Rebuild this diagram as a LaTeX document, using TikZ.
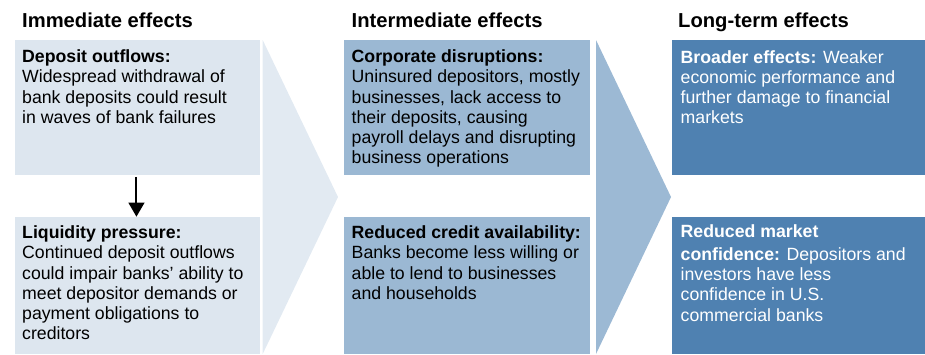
\documentclass[tikz,border=0pt]{standalone}
\usepackage{fontspec}
\setmainfont{Liberation Sans}
\usetikzlibrary{arrows.meta}

\definecolor{paleblue}{HTML}{DDE6EF}
\definecolor{palechev}{HTML}{E2EAF2}
\definecolor{midblue}{HTML}{9BB8D3}
\definecolor{midchev}{HTML}{9CB9D4}
\definecolor{deepblue}{HTML}{4F81B1}

\newcommand{\bodyfont}{\fontsize{17.7}{20.2}\selectfont}
\newcommand{\headfont}{\fontsize{20.2}{24}\selectfont\bfseries}

\begin{document}
\begin{tikzpicture}[x=1pt,y=-1pt,
  panel/.style={draw=none,anchor=north west,inner sep=0pt,minimum height=#1},
  lightpanel/.style={panel=#1,fill=paleblue,minimum width=244.5pt},
  midpanel/.style={panel=#1,fill=midblue,minimum width=246pt},
  darkpanel/.style={panel=#1,fill=deepblue,minimum width=253pt},
  heading/.style={anchor=base west,inner sep=0pt,font=\headfont},
  blurb/.style={anchor=base west,inner sep=0pt,font=\bodyfont},
  flow/.style={line width=2pt,-{Triangle[width=15.7pt,length=14pt]},shorten <=2pt}
]
\useasboundingbox (0,0) rectangle (925,354);

% wide chevrons behind the columns
\coordinate (c1a) at (262.7,40);
\coordinate (c1b) at (338,197);
\coordinate (c1c) at (262.7,354);
\fill[palechev] (c1a) -- (c1b) -- (c1c) -- cycle;
\coordinate (c2a) at (596,40);
\coordinate (c2b) at (671,197);
\coordinate (c2c) at (596,354);
\fill[midchev] (c2a) -- (c2b) -- (c2c) -- cycle;

% column headings
\node[heading] (h1) at (22,27) {Immediate effects};
\node[heading] (h2) at (351.5,27) {Intermediate effects};
\node[heading] (h3) at (678,27) {Long-term effects};

% panels
\node[lightpanel=134.5pt] (dep) at (15,40) {};
\node[lightpanel=137.3pt] (liq) at (15,216.7) {};
\node[midpanel=134.5pt] (corp) at (344,40) {};
\node[midpanel=137.3pt] (cred) at (344,216.7) {};
\node[darkpanel=134.5pt] (broad) at (672,40) {};
\node[darkpanel=137.3pt] (conf) at (672,216.7) {};

% panel texts
\node[blurb] (deptext) at ([xshift=7pt,yshift=-22.7pt]dep.north west)
  {\parbox[t]{240pt}{\raggedright\textbf{Deposit outflows:}\\
   Widespread withdrawal of\\ bank deposits could result\\ in waves of bank failures}};
\node[blurb] (liqtext) at ([xshift=7pt,yshift=-22pt]liq.north west)
  {\parbox[t]{240pt}{\raggedright\textbf{Liquidity pressure:}\\
   Continued deposit outflows\\ could impair banks’ ability to\\ meet depositor demands or\\
   payment obligations to\\ creditors}};
\node[blurb] (corptext) at ([xshift=7.5pt,yshift=-22.7pt]corp.north west)
  {\parbox[t]{240pt}{\raggedright\textbf{Corporate disruptions:}\\
   Uninsured depositors, mostly\\ businesses, lack access to\\ their deposits, causing\\
   payroll delays and disrupting\\ business operations}};
\node[blurb] (credtext) at ([xshift=7.5pt,yshift=-22pt]cred.north west)
  {\parbox[t]{240pt}{\raggedright\textbf{Reduced credit availability:}\\
   Banks become less willing or\\ able to lend to businesses\\ and households}};
\node[blurb,text=white] (broadtext) at ([xshift=8.5pt,yshift=-23pt]broad.north west)
  {\parbox[t]{245pt}{\raggedright\textbf{Broader effects:} Weaker\\
   economic performance and\\ further damage to financial\\ markets}};
\node[blurb,text=white] (conftext) at ([xshift=8.5pt,yshift=-21pt]conf.north west)
  {\parbox[t]{245pt}{\raggedright\textbf{Reduced market}\\[2.5pt]
   \textbf{confidence:} Depositors and\\ investors have less\\ confidence in U.S.\\
   commercial banks}};

% link between the two immediate effects
\draw[flow] ([xshift=-1pt]dep.south) -- ([xshift=-1pt]liq.north);
\end{tikzpicture}
\end{document}
